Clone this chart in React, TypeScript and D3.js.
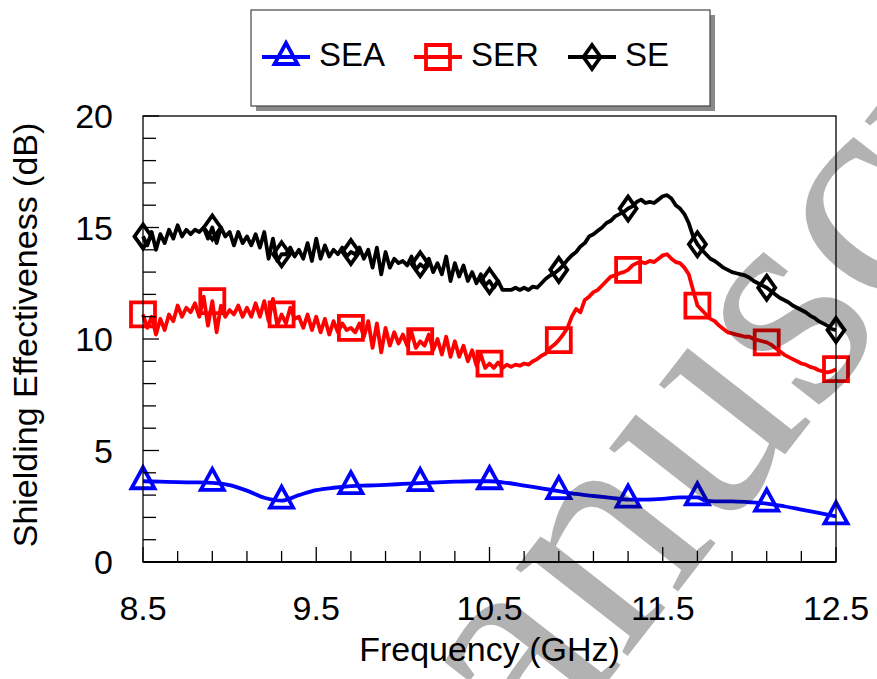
import { useEffect, useRef } from 'react';
import * as d3 from 'd3';

// =============================================================================
// Data
// =============================================================================

// SEA is smooth, sampled every 0.1 GHz
const seaFreq = [
  8.5, 8.6, 8.7, 8.8, 8.9, 9.0, 9.1, 9.2, 9.3, 9.4, 9.5, 9.6, 9.7, 9.8, 9.9, 10.0,
  10.1, 10.2, 10.3, 10.4, 10.5, 10.6, 10.7, 10.8, 10.9, 11.0, 11.1, 11.2, 11.3,
  11.4, 11.5, 11.6, 11.7, 11.75, 11.8, 11.9, 12.0, 12.1, 12.2, 12.3, 12.4, 12.5,
];
const seaValues = [
  3.62, 3.6, 3.58, 3.57, 3.55, 3.45, 3.2, 2.88, 2.75, 3.0, 3.22, 3.33, 3.4, 3.43,
  3.46, 3.5, 3.54, 3.57, 3.6, 3.62, 3.62, 3.55, 3.43, 3.3, 3.18, 3.05, 2.96, 2.88,
  2.8, 2.8, 2.83, 2.9, 2.9, 2.74, 2.72, 2.72, 2.68, 2.62, 2.5, 2.35, 2.2, 2.05,
];

// SER and SE are noisy, sampled every 0.025 GHz from 8.5 to 12.5
const serValues = [
  11.1, 10.5, 11.0, 10.2, 10.9, 10.4, 11.1, 10.8, 11.5, 11.0, 11.4, 11.2, 11.6, 11.0,
  11.9, 10.6, 11.7, 10.3, 11.5, 11.0, 11.3, 11.1, 11.5, 11.0, 11.4, 11.0, 11.6, 11.0,
  11.7, 10.8, 11.8, 10.6, 11.1, 10.7, 11.4, 10.9, 11.0, 10.5, 11.1, 10.4, 11.0, 10.3,
  10.9, 10.2, 10.8, 10.3, 10.7, 10.4, 10.5, 10.3, 10.7, 10.1, 10.8, 9.6, 10.7, 9.4,
  10.5, 9.7, 10.3, 9.8, 10.2, 9.7, 10.3, 9.6, 9.9, 9.7, 10.2, 9.5, 10.0, 9.3,
  10.1, 9.2, 9.9, 9.2, 9.7, 9.0, 9.5, 8.8, 9.3, 8.7, 8.9, 8.7, 8.95, 8.7,
  8.85, 8.75, 8.85, 8.8, 8.9, 8.85, 9.0, 9.1, 9.25, 9.35, 9.6, 9.75, 9.95, 10.2,
  10.5, 11.0, 11.35, 11.2, 11.75, 11.9, 12.1, 12.2, 12.4, 12.6, 12.8, 12.85, 12.95, 13.0,
  13.1, 13.3, 13.4, 13.45, 13.4, 13.5, 13.45, 13.6, 13.75, 13.8, 13.6, 13.45, 13.4, 13.2,
  12.9, 12.2, 11.5, 11.3, 11.1, 10.9, 10.8, 10.6, 10.45, 10.3, 10.25, 10.2, 10.15, 10.1,
  10.1, 10.0, 9.95, 9.9, 9.85, 9.75, 9.6, 9.45, 9.3, 9.2, 9.1, 9.0, 8.9, 8.85,
  8.75, 8.7, 8.6, 8.55, 8.5, 8.55, 8.65,
];
const seValues = [
  14.6, 14.2, 14.8, 14.0, 14.7, 14.3, 14.9, 14.5, 15.1, 14.6, 14.9, 14.7, 14.9, 14.8,
  15.0, 14.5, 15.0, 14.3, 15.0, 14.6, 14.8, 14.2, 14.8, 14.3, 14.6, 14.2, 14.7, 14.1,
  14.8, 13.6, 14.5, 13.5, 13.8, 13.8, 14.1, 13.7, 14.0, 13.6, 14.3, 13.5, 14.5, 13.6,
  14.2, 13.7, 14.0, 13.8, 14.1, 13.7, 13.9, 13.8, 14.1, 13.6, 14.0, 13.2, 14.1, 12.9,
  13.9, 13.2, 13.6, 13.4, 13.5, 13.3, 13.7, 13.1, 13.35, 13.2, 13.6, 13.0, 13.4, 12.9,
  13.7, 12.6, 13.4, 12.8, 13.3, 12.6, 13.0, 12.5, 12.9, 12.4, 12.6, 12.3, 12.6, 12.2,
  12.2, 12.2, 12.3, 12.2, 12.3, 12.2, 12.35, 12.3, 12.5, 12.7, 12.85, 12.95, 13.1, 13.3,
  13.55, 13.75, 13.9, 14.15, 14.3, 14.6, 14.7, 14.85, 15.0, 15.2, 15.3, 15.5, 15.6, 15.7,
  15.85, 15.95, 16.15, 16.25, 16.1, 16.15, 16.1, 16.25, 16.4, 16.45, 16.3, 16.0, 15.85, 15.6,
  15.2, 14.6, 14.25, 14.0, 13.8, 13.6, 13.5, 13.35, 13.2, 13.1, 13.0, 12.95, 12.9, 12.85,
  12.75, 12.6, 12.5, 12.4, 12.3, 12.15, 12.0, 11.85, 11.75, 11.65, 11.5, 11.4, 11.3, 11.2,
  11.05, 10.95, 10.8, 10.7, 10.6, 10.45, 10.4,
];

const markerFreqs = [8.5, 8.9, 9.3, 9.7, 10.1, 10.5, 10.9, 11.3, 11.7, 12.1, 12.5];
const xTickLabels = ['8.5', '9.5', '10.5', '11.5', '12.5'];
const yTickLabels = ['0', '5', '10', '15', '20'];
const legendLabels = ['SEA', 'SER', 'SE'];

// =============================================================================
// Constants
// =============================================================================

const WIDTH = 877;
const HEIGHT = 679;
const MARGIN = { top: 116, right: 41, bottom: 117, left: 143 };
const FONT = 'Liberation Sans, Arial, Helvetica, sans-serif';

const BLUE = '#0000ff';
const RED = '#ff0000';
const BLACK = '#000000';
const LINE_W = 3.8;

const noisyFreq = d3.range(serValues.length).map((i) => 8.5 + i * 0.025);

type Pt = [number, number];

const trianglePath = (w: number, h: number) =>
  `M0,${(-2 * h) / 3}L${w / 2},${h / 3}L${-w / 2},${h / 3}Z`;
const squarePath = (s: number) =>
  `M${-s / 2},${-s / 2}H${s / 2}V${s / 2}H${-s / 2}Z`;
const diamondPath = (w: number, h: number) =>
  `M0,${-h / 2}L${w / 2},0L0,${h / 2}L${-w / 2},0Z`;

const markerShapes = [trianglePath(23, 21), squarePath(24), diamondPath(17, 24)];

// =============================================================================
// Component
// =============================================================================

export default function App() {
  const svgRef = useRef<SVGSVGElement>(null);

  useEffect(() => {
    if (!svgRef.current) return;
    const svg = d3.select(svgRef.current);
    svg.selectAll('*').remove();

    const innerWidth = WIDTH - MARGIN.left - MARGIN.right;
    const innerHeight = HEIGHT - MARGIN.top - MARGIN.bottom;

    const x = d3.scaleLinear().domain([8.5, 12.5]).range([0, innerWidth]);
    const y = d3.scaleLinear().domain([0, 20]).range([innerHeight, 0]);

    svg.append('rect').attr('width', WIDTH).attr('height', HEIGHT).attr('fill', '#fff');

    const g = svg
      .append('g')
      .attr('transform', `translate(${MARGIN.left},${MARGIN.top})`);

    // Series
    const series: { pts: Pt[]; color: string }[] = [
      { pts: seaFreq.map((f, i) => [f, seaValues[i]] as Pt), color: BLUE },
      { pts: noisyFreq.map((f, i) => [f, serValues[i]] as Pt), color: RED },
      { pts: noisyFreq.map((f, i) => [f, seValues[i]] as Pt), color: BLACK },
    ];

    const line = d3
      .line<Pt>()
      .x((d) => x(d[0]))
      .y((d) => y(d[1]));

    series.forEach((s, si) => {
      g.append('path')
        .attr('d', line.curve(si === 0 ? d3.curveMonotoneX : d3.curveLinear)(s.pts))
        .attr('fill', 'none')
        .attr('stroke', s.color)
        .attr('stroke-width', LINE_W)
        .attr('stroke-linejoin', 'round');

      const markers = markerFreqs.map((mf) =>
        s.pts.reduce((a, b) => (Math.abs(b[0] - mf) < Math.abs(a[0] - mf) ? b : a))
      );

      g.selectAll(`.marker-${si}`)
        .data(markers)
        .enter()
        .append('path')
        .attr('class', `marker-${si}`)
        .attr('transform', (d) => `translate(${x(d[0])},${y(d[1])})`)
        .attr('d', markerShapes[si])
        .attr('fill', 'none')
        .attr('stroke', s.color)
        .attr('stroke-width', LINE_W);
    });

    // Frame
    g.append('rect')
      .attr('width', innerWidth)
      .attr('height', innerHeight)
      .attr('fill', 'none')
      .attr('stroke', BLACK)
      .attr('stroke-width', 1.3);
    g.append('line')
      .attr('x1', 0)
      .attr('x2', innerWidth)
      .attr('y1', innerHeight)
      .attr('y2', innerHeight)
      .attr('stroke', BLACK)
      .attr('stroke-width', 2);

    // X ticks (inward)
    d3.range(21).forEach((i) => {
      const f = 8.5 + i * 0.2;
      const major = i % 5 === 0;
      g.append('line')
        .attr('x1', x(f))
        .attr('x2', x(f))
        .attr('y1', innerHeight)
        .attr('y2', innerHeight - (major ? 15 : 11))
        .attr('stroke', BLACK)
        .attr('stroke-width', 1.3);
    });
    xTickLabels.forEach((t) => {
      g.append('text')
        .attr('x', x(+t))
        .attr('y', innerHeight + 58)
        .attr('text-anchor', 'middle')
        .attr('font-family', FONT)
        .attr('font-size', 34)
        .attr('fill', BLACK)
        .text(t);
    });

    // Y ticks (inward)
    d3.range(21).forEach((v) => {
      g.append('line')
        .attr('x1', 0)
        .attr('x2', v % 5 === 0 ? 16 : 13)
        .attr('y1', y(v))
        .attr('y2', y(v))
        .attr('stroke', BLACK)
        .attr('stroke-width', 1.3);
    });
    yTickLabels.forEach((t) => {
      g.append('text')
        .attr('x', -30)
        .attr('y', y(+t) + 12)
        .attr('text-anchor', 'end')
        .attr('font-family', FONT)
        .attr('font-size', 34)
        .attr('fill', BLACK)
        .text(t);
    });

    // Axis titles
    g.append('text')
      .attr('x', innerWidth / 2)
      .attr('y', innerHeight + 99)
      .attr('text-anchor', 'middle')
      .attr('font-family', FONT)
      .attr('font-size', 34)
      .attr('fill', BLACK)
      .text('Frequency (GHz)');

    svg
      .append('text')
      .attr('transform', `translate(37,${MARGIN.top + innerHeight / 2 - 4}) rotate(-90)`)
      .attr('text-anchor', 'middle')
      .attr('font-family', FONT)
      .attr('font-size', 34)
      .attr('fill', BLACK)
      .text('Shielding Effectiveness (dB)');

    // Legend
    const lg = svg.append('g');
    lg.append('rect')
      .attr('x', 256)
      .attr('y', 15)
      .attr('width', 459)
      .attr('height', 96)
      .attr('fill', '#8a8a8a');
    lg.append('rect')
      .attr('x', 251)
      .attr('y', 10)
      .attr('width', 459)
      .attr('height', 96)
      .attr('fill', '#fff')
      .attr('stroke', '#444')
      .attr('stroke-width', 1.2);

    const legendX = [262, 414, 568];
    const legendColors = [BLUE, RED, BLACK];
    legendLabels.forEach((label, i) => {
      const lx = legendX[i];
      lg.append('line')
        .attr('x1', lx)
        .attr('x2', lx + 48)
        .attr('y1', 57)
        .attr('y2', 57)
        .attr('stroke', legendColors[i])
        .attr('stroke-width', LINE_W);
      lg.append('path')
        .attr('transform', `translate(${lx + 24},57)`)
        .attr('d', markerShapes[i])
        .attr('fill', 'none')
        .attr('stroke', legendColors[i])
        .attr('stroke-width', LINE_W);
      lg.append('text')
        .attr('x', lx + 57)
        .attr('y', 66)
        .attr('font-family', FONT)
        .attr('font-size', 33)
        .attr('fill', BLACK)
        .text(label);
    });

    // Watermark
    svg
      .append('text')
      .attr('transform', 'translate(390,960) rotate(-52)')
      .attr('font-family', 'Liberation Serif, Times New Roman, serif')
      .attr('font-size', 310)
      .attr('fill', BLACK)
      .attr('fill-opacity', 0.3)
      .text('manuscript');
  }, []);

  return (
    <svg
      ref={svgRef}
      width={WIDTH}
      height={HEIGHT}
      style={{ position: 'absolute', left: 0, top: 0, display: 'block' }}
    />
  );
}
